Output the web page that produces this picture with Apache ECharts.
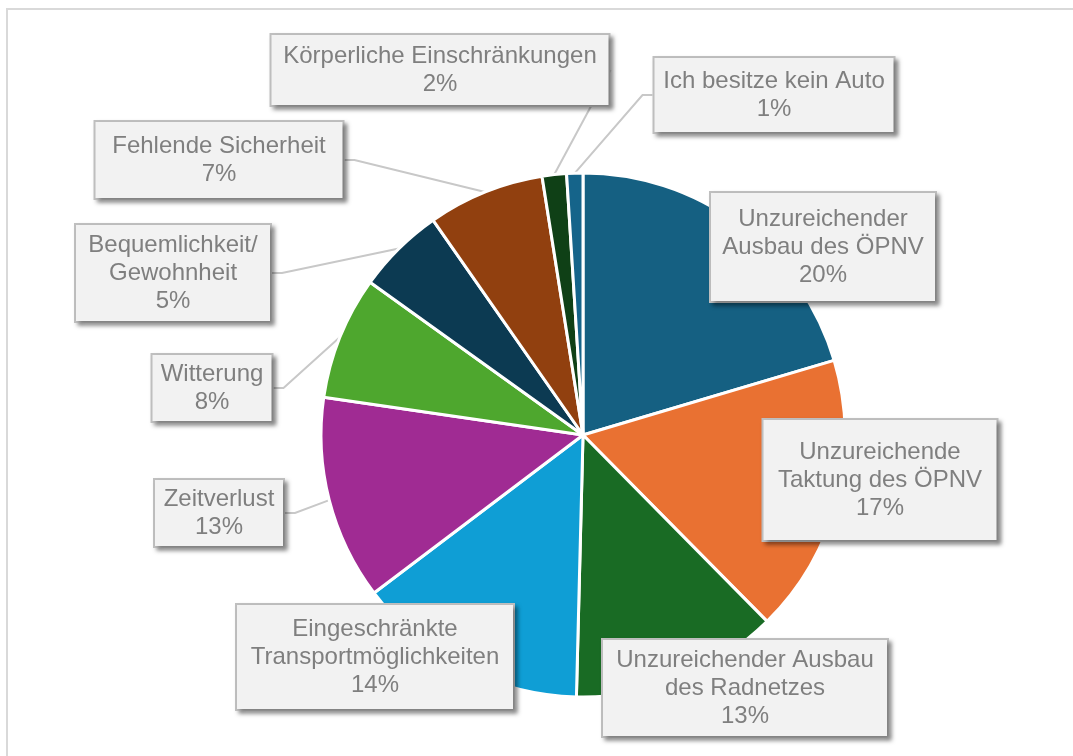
<!DOCTYPE html>
<html>
<head>
    <meta charset="utf-8">
    <title>Gründe gegen den Umstieg</title>
    <script src="https://cdn.jsdelivr.net/npm/echarts@6.0.0/dist/echarts.min.js"></script>
    <style>
        html, body { margin: 0; padding: 0; overflow: hidden; background: #fff; }
        #frame {
            position: absolute; left: 6px; top: 8px;
            width: 1100px; height: 800px;
            border: 2px solid #d9d9d9;
        }
        #chart-container {
            position: absolute; left: 0; top: 0;
            width: 1073px; height: 756px;
        }
    </style>
</head>
<body>
<div id="frame"></div>
<div id="chart-container"></div>
<script>
    const chartDom = document.getElementById('chart-container');
    const myChart = echarts.init(chartDom);

    // Kategorien (im Uhrzeigersinn ab 12 Uhr)
    const categories = [
        'Unzureichender\nAusbau des ÖPNV',
        'Unzureichende\nTaktung des ÖPNV',
        'Unzureichender Ausbau\ndes Radnetzes',
        'Eingeschränkte\nTransportmöglichkeiten',
        'Zeitverlust',
        'Witterung',
        'Bequemlichkeit/\nGewohnheit',
        'Fehlende Sicherheit',
        'Körperliche Einschränkungen',
        'Ich besitze kein Auto'
    ];
    // Anteile in % (aus dem Bild geschätzt)
    const values = [20.4, 17.2, 12.8, 14.3, 12.6, 7.6, 5.4, 7.2, 1.5, 1.0];

    const colors = ['#156082', '#e97132', '#196b24', '#0f9ed5', '#a02b93',
                    '#4ea72e', '#0c3a52', '#91400f', '#0f4016', '#15648a'];

    // Beschriftungsboxen: Mittelpunkt x, y, Breite, vertikaler Innenabstand
    const boxes = [
        [823, 247, 224, 12],
        [880, 480, 233, 18],
        [745, 688, 284, 6],
        [375, 657, 276, 10],
        [219, 513, 128, 5],
        [212, 388, 119, 5],
        [173, 273, 194, 6],
        [219, 160, 247, 10],
        [440, 70, 337, 7],
        [774, 95, 239, 9]
    ];
    const insideLabels = [0, 1, 2, 3];

    const option = {
        animation: false,
        series: [{
            type: 'pie',
            center: [583, 435],
            radius: 262,
            startAngle: 90,
            clockwise: true,
            avoidLabelOverlap: false,
            itemStyle: { borderColor: '#ffffff', borderWidth: 3 },
            label: {
                show: true,
                position: 'outside',
                fontFamily: 'Liberation Sans, Arial, sans-serif',
                fontSize: 24,
                lineHeight: 28,
                color: '#7f7f7f',
                align: 'center',
                backgroundColor: '#f2f2f2',
                borderColor: '#bfbfbf',
                borderWidth: 2,
                shadowColor: 'rgba(0,0,0,0.35)',
                shadowBlur: 4,
                shadowOffsetX: 3,
                shadowOffsetY: 3,
                formatter: p => p.name + '\n' + Math.round(p.percent) + '%'
            },
            labelLine: {
                show: true,
                length: 20,
                length2: 10,
                lineStyle: { color: '#c8c8c8', width: 2 }
            },
            labelLayout: function (params) {
                const b = boxes[params.dataIndex];
                return { x: b[0], y: b[1], align: 'center', verticalAlign: 'middle' };
            },
            data: categories.map((name, i) => ({
                name: name,
                value: values[i],
                itemStyle: { color: colors[i] },
                label: {
                    width: boxes[i][2],
                    padding: [boxes[i][3] + 3, 0, boxes[i][3] - 3, 0]
                },
                labelLine: { show: insideLabels.indexOf(i) < 0 }
            }))
        }]
    };

    myChart.setOption(option);

    window.addEventListener('resize', function () {
        myChart.resize();
    });
</script>
</body>
</html>
